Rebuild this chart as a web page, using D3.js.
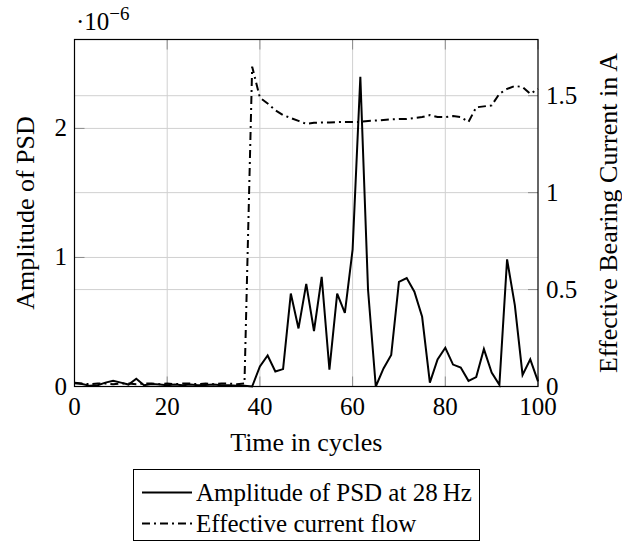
<!DOCTYPE html>
<html>
<head>
<meta charset="utf-8">
<script src="https://cdn.jsdelivr.net/npm/d3@7"></script>
<style>
	body { margin: 0; background: #fff; }
</style>
</head>
<body>
<div id="graph"></div>
<script>
// time axis (cycles), one sample every 5/3 cycle
var cycles = [0, 1.67, 3.33, 5, 6.67, 8.33, 10, 11.67, 13.33, 15, 16.67, 18.33, 20, 21.67, 23.33, 25,
	26.67, 28.33, 30, 31.67, 33.33, 35, 36.67, 38.33, 40, 41.67, 43.33, 45, 46.67, 48.33, 50,
	51.67, 53.33, 55, 56.67, 58.33, 60, 61.67, 63.33, 65, 66.67, 68.33, 70, 71.67, 73.33, 75,
	76.67, 78.33, 80, 81.67, 83.33, 85, 86.67, 88.33, 90, 91.67, 93.33, 95, 96.67, 98.33, 100];

// amplitude of PSD at 28 Hz, in units of 1e-6
var amplitude = [0.025, 0.02, 0.005, 0.01, 0.03, 0.045, 0.03, 0.015, 0.06, 0.01, 0.02, 0.015, 0.01,
	0.015, 0.01, 0.015, 0.01, 0.012, 0.015, 0.01, 0.01, 0.005, 0.005, 0.0, 0.155, 0.24, 0.116,
	0.135, 0.72, 0.45, 0.795, 0.43, 0.85, 0.13, 0.72, 0.57, 1.06, 2.40, 0.75, 0.0, 0.14, 0.245,
	0.81, 0.84, 0.735, 0.54, 0.03, 0.21, 0.30, 0.17, 0.147, 0.044, 0.073, 0.29, 0.108, 0.013,
	0.985, 0.63, 0.09, 0.21, 0.04];

// effective bearing current in A
var current = [0.02, 0.015, 0.012, 0.015, 0.015, 0.012, 0.015, 0.015, 0.012, 0.015, 0.015, 0.012,
	0.015, 0.012, 0.015, 0.015, 0.012, 0.015, 0.012, 0.015, 0.015, 0.012, 0.015, 1.65, 1.49,
	1.46, 1.425, 1.40, 1.385, 1.37, 1.355, 1.36, 1.362, 1.362, 1.364, 1.365, 1.365, 1.365, 1.37,
	1.372, 1.375, 1.378, 1.38, 1.38, 1.385, 1.39, 1.40, 1.39, 1.39, 1.395, 1.39, 1.365, 1.44,
	1.445, 1.45, 1.51, 1.535, 1.55, 1.545, 1.51, 1.535];

var xTicks = [0, 20, 40, 60, 80, 100];
var leftTicks = [0, 1, 2];
var rightTicks = [0, 0.5, 1, 1.5];
var rightTickLabels = ["0", "0.5", "1", "1.5"];
var legendLabels = ["Amplitude of PSD at 28\u2009Hz", "Effective current flow"];

var w = 622, h = 546;
var L = 74.5, R = 538, T = 39.5, B = 386.5;
var fs = 25;

var x = d3.scaleLinear().domain([0, 100]).range([L, R]);
var yLeft = d3.scaleLinear().domain([0, 2.689]).range([B, T]);
var yRight = d3.scaleLinear().domain([0, 1.79]).range([B, T]);

var svg = d3.select("#graph").append("svg").attr("width", w).attr("height", h)
	.attr("font-family", "Liberation Serif");

// grid
var grid = svg.append("g").attr("stroke", "#d0d0d0").attr("stroke-width", 1);
xTicks.slice(1, -1).forEach(function (t) {
	grid.append("line").attr("x1", x(t)).attr("x2", x(t)).attr("y1", T).attr("y2", B);
});
leftTicks.slice(1).forEach(function (t) {
	grid.append("line").attr("x1", L).attr("x2", R).attr("y1", yLeft(t)).attr("y2", yLeft(t));
});
rightTicks.slice(1).forEach(function (t) {
	grid.append("line").attr("x1", L).attr("x2", R).attr("y1", yRight(t)).attr("y2", yRight(t));
});

// tick marks, pointing inward
var ticks = svg.append("g").attr("stroke", "#8c8c8c").attr("stroke-width", 1);
xTicks.forEach(function (t) {
	ticks.append("line").attr("x1", x(t)).attr("x2", x(t)).attr("y1", B).attr("y2", B - 10);
	ticks.append("line").attr("x1", x(t)).attr("x2", x(t)).attr("y1", T).attr("y2", T + 10);
});
leftTicks.forEach(function (t) {
	ticks.append("line").attr("x1", L).attr("x2", L + 10).attr("y1", yLeft(t)).attr("y2", yLeft(t));
});
rightTicks.forEach(function (t) {
	ticks.append("line").attr("x1", R).attr("x2", R - 10).attr("y1", yRight(t)).attr("y2", yRight(t));
});

// series
var lineAmp = d3.line().x(function (d, i) { return x(cycles[i]); }).y(function (d) { return yLeft(d); });
var lineCur = d3.line().x(function (d, i) { return x(cycles[i]); }).y(function (d) { return yRight(d); });

svg.append("path").datum(current).attr("d", lineCur).attr("fill", "none")
	.attr("stroke", "#000").attr("stroke-width", 2).attr("stroke-dasharray", "8,4,2,4");
svg.append("path").datum(amplitude).attr("d", lineAmp).attr("fill", "none")
	.attr("stroke", "#000").attr("stroke-width", 2).attr("stroke-linejoin", "miter");

// frame
svg.append("rect").attr("x", L).attr("y", T).attr("width", R - L).attr("height", B - T)
	.attr("fill", "none").attr("stroke", "#000").attr("stroke-width", 1.2);

// tick labels
svg.append("g").selectAll("text").data(xTicks).enter().append("text")
	.attr("x", function (d) { return x(d); }).attr("y", 415).attr("text-anchor", "middle")
	.attr("font-size", fs).text(function (d) { return d; });
svg.append("g").selectAll("text").data(leftTicks).enter().append("text")
	.attr("x", 67).attr("y", function (d) { return yLeft(d) + 8; }).attr("text-anchor", "end")
	.attr("font-size", fs).text(function (d) { return d; });
svg.append("g").selectAll("text").data(rightTicks).enter().append("text")
	.attr("x", 546).attr("y", function (d) { return yRight(d) + 8; }).attr("text-anchor", "start")
	.attr("font-size", fs).text(function (d, i) { return rightTickLabels[i]; });

// scale factor
var sf = svg.append("text").attr("x", 76).attr("y", 30).attr("font-size", fs);
sf.append("tspan").text("\u00b710");
sf.append("tspan").attr("dy", -10).attr("font-size", 19).text("\u22126");

// axis labels
svg.append("text").attr("x", (L + R) / 2).attr("y", 451).attr("text-anchor", "middle")
	.attr("font-size", 26).text("Time in cycles");
svg.append("text").attr("transform", "translate(34," + (T + B) / 2 + ") rotate(-90)")
	.attr("text-anchor", "middle").attr("font-size", 26).text("Amplitude of PSD");
svg.append("text").attr("transform", "translate(617," + (T + B) / 2 + ") rotate(-90)")
	.attr("text-anchor", "middle").attr("font-size", 26).text("Effective Bearing Current in A");

// legend, centred under the axis
var lg = svg.append("g");
lg.append("rect").attr("x", 133.5).attr("y", 469.5).attr("width", 346).attr("height", 71)
	.attr("fill", "#fff").attr("stroke", "#000").attr("stroke-width", 1);
var legendDash = [null, "8,4,2,4"];
legendLabels.forEach(function (lbl, i) {
	var yy = 492.5 + i * 31;
	lg.append("line").attr("x1", 142).attr("x2", 192).attr("y1", yy).attr("y2", yy)
		.attr("stroke", "#000").attr("stroke-width", 2)
		.attr("stroke-dasharray", legendDash[i]);
	lg.append("text").attr("x", 196).attr("y", yy + 8).attr("font-size", fs).text(lbl);
});
</script>
</body>
</html>
